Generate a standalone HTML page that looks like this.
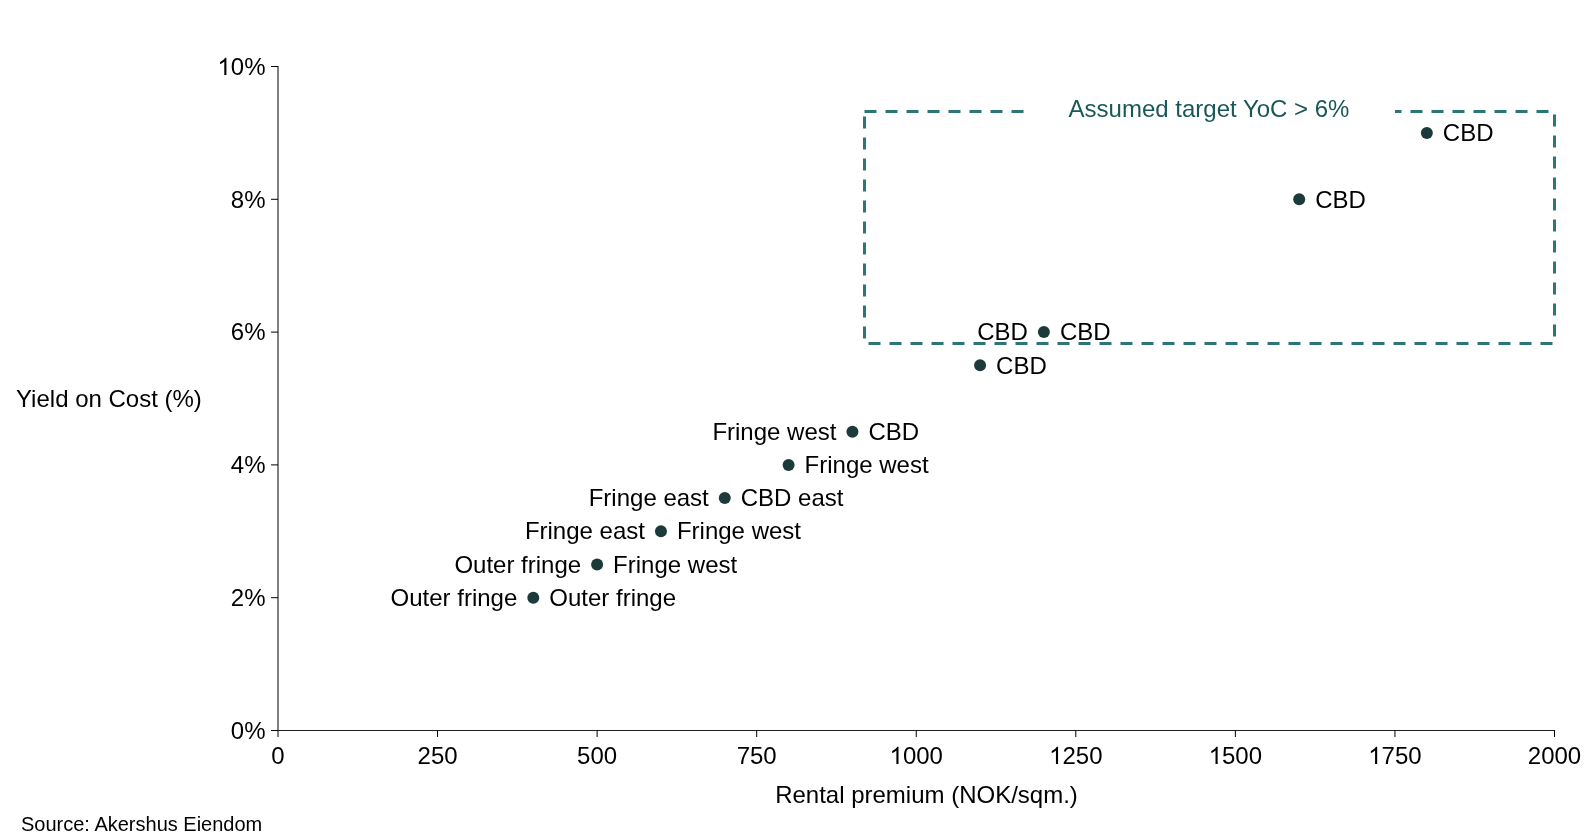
<!DOCTYPE html>
<html><head><meta charset="utf-8"><style>
html,body{margin:0;padding:0;background:#fff;width:1594px;height:837px;overflow:hidden;position:relative}
svg text{font-family:"Liberation Sans",sans-serif}
</style></head><body>
<svg width="1594" height="837" viewBox="0 0 1594 837" style="position:absolute;left:0;top:0;will-change:transform">
<path d="M864.5,111.5 H1554.5 V343.5 H864.5 Z" fill="none" stroke="#2d7577" stroke-width="3" stroke-dasharray="12 9"/>
<rect x="1026" y="100" width="369" height="24" fill="#fff"/>
<text x="1209" y="116.7" text-anchor="middle" fill="#1a5858" font-size="24">Assumed target YoC &gt; 6%</text>
<path d="M278,66 V737" stroke="#000" stroke-width="1" fill="none"/>
<path d="M271,730.5 H1555" stroke="#1e1e1e" stroke-width="1" fill="none"/>
<path d="M271,730.50 H278" stroke="#000" stroke-width="1"/>
<text x="265.5" y="739.00" text-anchor="end" font-size="24">0%</text>
<path d="M271,597.70 H278" stroke="#000" stroke-width="1"/>
<text x="265.5" y="606.00" text-anchor="end" font-size="24">2%</text>
<path d="M271,464.90 H278" stroke="#000" stroke-width="1"/>
<text x="265.5" y="473.00" text-anchor="end" font-size="24">4%</text>
<path d="M271,332.10 H278" stroke="#000" stroke-width="1"/>
<text x="265.5" y="340.00" text-anchor="end" font-size="24">6%</text>
<path d="M271,199.30 H278" stroke="#000" stroke-width="1"/>
<text x="265.5" y="208.00" text-anchor="end" font-size="24">8%</text>
<path d="M271,66.50 H278" stroke="#000" stroke-width="1"/>
<text x="265.5" y="75.00" text-anchor="end" font-size="24">0%</text>
<path transform="translate(217.465,75.000) scale(0.011719,-0.011719)" d="M763 0H583V1147Q518 1085 412.5 1023T223 930V1104Q375 1175 489 1276T650 1472H763V0Z"/>
<text x="278.00" y="764" text-anchor="middle" font-size="24">0</text>
<path d="M437.56,730.5 V737" stroke="#000" stroke-width="1"/>
<text x="437.56" y="764" text-anchor="middle" font-size="24">250</text>
<path d="M597.12,730.5 V737" stroke="#000" stroke-width="1"/>
<text x="597.12" y="764" text-anchor="middle" font-size="24">500</text>
<path d="M756.69,730.5 V737" stroke="#000" stroke-width="1"/>
<text x="756.69" y="764" text-anchor="middle" font-size="24">750</text>
<path d="M916.25,730.5 V737" stroke="#000" stroke-width="1"/>
<path transform="translate(889.555,764.000) scale(0.011719,-0.011719)" d="M763 0H583V1147Q518 1085 412.5 1023T223 930V1104Q375 1175 489 1276T650 1472H763V0Z"/>
<text x="902.90" y="764" font-size="24">000</text>
<path d="M1075.81,730.5 V737" stroke="#000" stroke-width="1"/>
<path transform="translate(1049.117,764.000) scale(0.011719,-0.011719)" d="M763 0H583V1147Q518 1085 412.5 1023T223 930V1104Q375 1175 489 1276T650 1472H763V0Z"/>
<text x="1062.46" y="764" font-size="24">250</text>
<path d="M1235.38,730.5 V737" stroke="#000" stroke-width="1"/>
<path transform="translate(1208.680,764.000) scale(0.011719,-0.011719)" d="M763 0H583V1147Q518 1085 412.5 1023T223 930V1104Q375 1175 489 1276T650 1472H763V0Z"/>
<text x="1222.03" y="764" font-size="24">500</text>
<path d="M1394.94,730.5 V737" stroke="#000" stroke-width="1"/>
<path transform="translate(1368.242,764.000) scale(0.011719,-0.011719)" d="M763 0H583V1147Q518 1085 412.5 1023T223 930V1104Q375 1175 489 1276T650 1472H763V0Z"/>
<text x="1381.59" y="764" font-size="24">750</text>
<path d="M1554.50,730.5 V737" stroke="#000" stroke-width="1"/>
<text x="1554.50" y="764" text-anchor="middle" font-size="24">2000</text>
<circle cx="1426.85" cy="132.90" r="6" fill="#1c3a3a"/>
<text x="1442.85" y="141.00" font-size="24">CBD</text>
<circle cx="1299.20" cy="199.30" r="6" fill="#1c3a3a"/>
<text x="1315.20" y="208.00" font-size="24">CBD</text>
<circle cx="1043.90" cy="332.10" r="6" fill="#1c3a3a"/>
<text x="1027.90" y="340.00" text-anchor="end" font-size="24">CBD</text>
<text x="1059.90" y="340.00" font-size="24">CBD</text>
<circle cx="980.08" cy="365.30" r="6" fill="#1c3a3a"/>
<text x="996.08" y="374.00" font-size="24">CBD</text>
<circle cx="852.43" cy="431.70" r="6" fill="#1c3a3a"/>
<text x="836.43" y="440.00" text-anchor="end" font-size="24">Fringe west</text>
<text x="868.43" y="440.00" font-size="24">CBD</text>
<circle cx="788.60" cy="464.90" r="6" fill="#1c3a3a"/>
<text x="804.60" y="473.00" font-size="24">Fringe west</text>
<circle cx="724.77" cy="498.10" r="6" fill="#1c3a3a"/>
<text x="708.77" y="506.00" text-anchor="end" font-size="24">Fringe east</text>
<text x="740.77" y="506.00" font-size="24">CBD east</text>
<circle cx="660.95" cy="531.30" r="6" fill="#1c3a3a"/>
<text x="644.95" y="539.00" text-anchor="end" font-size="24">Fringe east</text>
<text x="676.95" y="539.00" font-size="24">Fringe west</text>
<circle cx="597.12" cy="564.50" r="6" fill="#1c3a3a"/>
<text x="581.12" y="573.00" text-anchor="end" font-size="24">Outer fringe</text>
<text x="613.12" y="573.00" font-size="24">Fringe west</text>
<circle cx="533.30" cy="597.70" r="6" fill="#1c3a3a"/>
<text x="517.30" y="606.00" text-anchor="end" font-size="24">Outer fringe</text>
<text x="549.30" y="606.00" font-size="24">Outer fringe</text>
<text x="16" y="406.9" font-size="24">Yield on Cost (%)</text>
<text x="926.5" y="803" text-anchor="middle" font-size="24">Rental premium (NOK/sqm.)</text>
<text x="21" y="831" font-size="20">Source: Akershus Eiendom</text>
</svg>
</body></html>
